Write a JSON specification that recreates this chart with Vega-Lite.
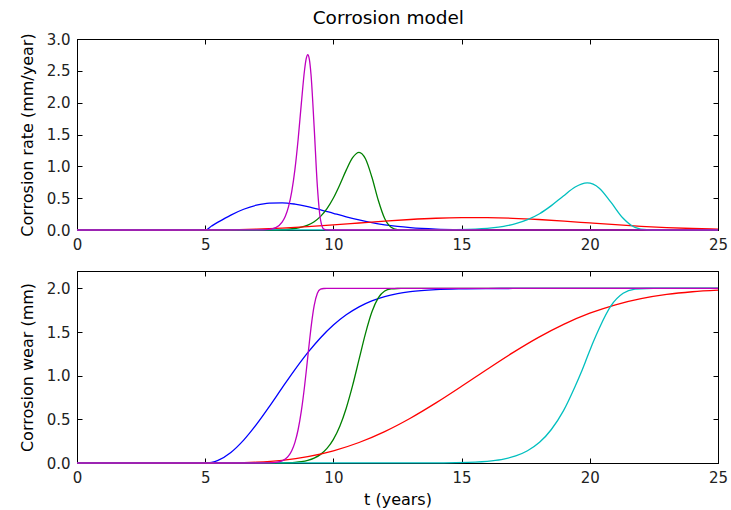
{
  "$schema": "https://vega.github.io/schema/vega-lite/v6.json",
  "padding": {"left": 18, "top": 9, "right": 3, "bottom": 5},
  "title": {"text": "Corrosion model", "fontSize": 18.5, "font": "DejaVu Sans", "fontWeight": "normal", "color": "#000", "anchor": "middle", "offset": 4, "dx": 15},
  "spacing": 17,
  "data": {"values": [
    {"s":"b","t":0,"r":0,"w":0},{"s":"b","t":5,"r":0,"w":0},{"s":"b","t":5.25,"r":0.0623,"w":0.0078},{"s":"b","t":5.5,"r":0.1231,"w":0.031},{"s":"b","t":6,"r":0.2349,"w":0.1212},{"s":"b","t":6.5,"r":0.3258,"w":0.2624},{"s":"b","t":7,"r":0.3894,"w":0.4424},{"s":"b","t":7.5,"r":0.4229,"w":0.6466},{"s":"b","t":8,"r":0.4273,"w":0.8604},{"s":"b","t":8.5,"r":0.4069,"w":1.0699},{"s":"b","t":9,"r":0.3679,"w":1.2642},{"s":"b","t":9.5,"r":0.3173,"w":1.4359},{"s":"b","t":10,"r":0.262,"w":1.5808},{"s":"b","t":10.5,"r":0.2076,"w":1.6981},{"s":"b","t":11,"r":0.1581,"w":1.7892},{"s":"b","t":11.5,"r":0.1159,"w":1.8574},{"s":"b","t":12,"r":0.0818,"w":1.9065},{"s":"b","t":12.5,"r":0.0557,"w":1.9405},{"s":"b","t":13,"r":0.0366,"w":1.9634},{"s":"b","t":14,"r":0.0142,"w":1.9873},{"s":"b","t":15,"r":0.0048,"w":1.9961},{"s":"b","t":16,"r":0.0014,"w":1.999},{"s":"b","t":17,"r":0.0004,"w":1.9998},{"s":"b","t":19,"r":0,"w":2},{"s":"b","t":25,"r":0,"w":2},
    {"s":"g","t":0,"r":0,"w":0},{"s":"g","t":7,"r":0.0002,"w":0},{"s":"g","t":7.5,"r":0.0011,"w":0.0003},{"s":"g","t":8,"r":0.0059,"w":0.0018},{"s":"g","t":8.25,"r":0.012,"w":0.0039},{"s":"g","t":8.5,"r":0.0234,"w":0.0082},{"s":"g","t":8.75,"r":0.0433,"w":0.0163},{"s":"g","t":9,"r":0.0768,"w":0.031},{"s":"g","t":9.25,"r":0.1308,"w":0.0564},{"s":"g","t":9.5,"r":0.214,"w":0.0988},{"s":"g","t":9.75,"r":0.3357,"w":0.1667},{"s":"g","t":10,"r":0.5025,"w":0.2705},{"s":"g","t":10.25,"r":0.7116,"w":0.4214},{"s":"g","t":10.5,"r":0.9402,"w":0.6279},{"s":"g","t":10.75,"r":1.1359,"w":0.8888},{"s":"g","t":11,"r":1.2197,"w":1.1865},{"s":"g","t":11.25,"r":1.1191,"w":1.4831},{"s":"g","t":11.5,"r":0.8318,"w":1.73},{"s":"g","t":11.75,"r":0.4664,"w":1.8922},{"s":"g","t":12,"r":0.1797,"w":1.9701},{"s":"g","t":12.25,"r":0.0422,"w":1.9949},{"s":"g","t":12.5,"r":0.0051,"w":1.9995},{"s":"g","t":12.75,"r":0.0003,"w":2},{"s":"g","t":13,"r":0,"w":2},{"s":"g","t":25,"r":0,"w":2},
    {"s":"r","t":0,"r":0,"w":0},{"s":"r","t":5,"r":0,"w":0},{"s":"r","t":6,"r":0.0035,"w":0.0012},{"s":"r","t":7,"r":0.0138,"w":0.0092},{"s":"r","t":8,"r":0.0308,"w":0.031},{"s":"r","t":9,"r":0.0535,"w":0.0727},{"s":"r","t":10,"r":0.0808,"w":0.1396},{"s":"r","t":11,"r":0.1103,"w":0.235},{"s":"r","t":12,"r":0.1395,"w":0.3599},{"s":"r","t":13,"r":0.1652,"w":0.5128},{"s":"r","t":14,"r":0.1845,"w":0.6884},{"s":"r","t":15,"r":0.1947,"w":0.8787},{"s":"r","t":15.5,"r":0.1959,"w":0.9765},{"s":"r","t":16,"r":0.1945,"w":1.0742},{"s":"r","t":17,"r":0.1839,"w":1.2642},{"s":"r","t":18,"r":0.1646,"w":1.4391},{"s":"r","t":19,"r":0.1391,"w":1.5913},{"s":"r","t":20,"r":0.1108,"w":1.7163},{"s":"r","t":21,"r":0.0831,"w":1.8131},{"s":"r","t":22,"r":0.0585,"w":1.8835},{"s":"r","t":23,"r":0.0385,"w":1.9316},{"s":"r","t":24,"r":0.0237,"w":1.9622},{"s":"r","t":25,"r":0.0136,"w":1.9805},
    {"s":"c","t":0,"r":0,"w":0},{"s":"c","t":14.31,"r":0.0026,"w":0.0016},{"s":"c","t":15.24,"r":0.0099,"w":0.0068},{"s":"c","t":16.17,"r":0.0331,"w":0.0248},{"s":"c","t":16.64,"r":0.0579,"w":0.0455},{"s":"c","t":17.11,"r":0.0985,"w":0.0812},{"s":"c","t":17.57,"r":0.1619,"w":0.1408},{"s":"c","t":18.04,"r":0.2554,"w":0.2366},{"s":"c","t":18.5,"r":0.3827,"w":0.3839},{"s":"c","t":18.97,"r":0.5341,"w":0.597},{"s":"c","t":19.43,"r":0.6748,"w":0.8799},{"s":"c","t":19.67,"r":0.7214,"w":1.0427},{"s":"c","t":19.9,"r":0.739,"w":1.2134},{"s":"c","t":20.13,"r":0.7191,"w":1.384},{"s":"c","t":20.37,"r":0.6576,"w":1.5451},{"s":"c","t":20.83,"r":0.4329,"w":1.8028},{"s":"c","t":21.3,"r":0.1838,"w":1.9442},{"s":"c","t":21.76,"r":0.0415,"w":1.9915},{"s":"c","t":22.23,"r":0.0038,"w":1.9995},{"s":"c","t":22.69,"r":0.0001,"w":2},{"s":"c","t":25,"r":0,"w":2},
    {"s":"m","t":0,"r":0,"w":0},{"s":"m","t":7,"r":0.0005,"w":0},{"s":"m","t":7.5,"r":0.0097,"w":0.0016},{"s":"m","t":7.75,"r":0.0368,"w":0.0068},{"s":"m","t":8,"r":0.1232,"w":0.0248},{"s":"m","t":8.125,"r":0.2158,"w":0.0455},{"s":"m","t":8.25,"r":0.367,"w":0.0812},{"s":"m","t":8.375,"r":0.603,"w":0.1408},{"s":"m","t":8.5,"r":0.9515,"w":0.2366},{"s":"m","t":8.625,"r":1.4253,"w":0.3839},{"s":"m","t":8.75,"r":1.9894,"w":0.597},{"s":"m","t":8.875,"r":2.5136,"w":0.8799},{"s":"m","t":8.9375,"r":2.6872,"w":1.0427},{"s":"m","t":9,"r":2.7528,"w":1.2134},{"s":"m","t":9.0625,"r":2.6785,"w":1.384},{"s":"m","t":9.125,"r":2.4495,"w":1.5451},{"s":"m","t":9.25,"r":1.6124,"w":1.8028},{"s":"m","t":9.375,"r":0.6845,"w":1.9442},{"s":"m","t":9.5,"r":0.1546,"w":1.9915},{"s":"m","t":9.625,"r":0.0142,"w":1.9995},{"s":"m","t":9.75,"r":0.0004,"w":2},{"s":"m","t":10,"r":0,"w":2},{"s":"m","t":25,"r":0,"w":2}
  ]},
  "vconcat": [
    {
      "width": 641, "height": 191,
      "layer": [
        {
          "mark": {"type": "line", "opacity": 0},
          "encoding": {
            "x": {"field": "t", "type": "quantitative", "scale": {"domain": [0, 25], "nice": false}, "axis": {"orient": "top", "labels": false, "title": null, "values": [0,5,10,15,20,25]}},
            "y": {"field": "r", "type": "quantitative", "scale": {"domain": [0, 3], "nice": false}, "axis": {"orient": "right", "labels": false, "title": null, "values": [0,0.5,1,1.5,2,2.5,3]}},
            "detail": {"field": "s"}
          }
        },
        {
          "mark": {"type": "line", "strokeWidth": 1.3, "interpolate": "monotone"},
          "encoding": {
            "x": {"field": "t", "type": "quantitative", "scale": {"domain": [0, 25], "nice": false}, "axis": {"orient": "bottom", "title": null, "values": [0,5,10,15,20,25]}},
            "y": {"field": "r", "type": "quantitative", "scale": {"domain": [0, 3], "nice": false}, "axis": {"orient": "left", "title": "Corrosion rate (mm/year)", "values": [0,0.5,1,1.5,2,2.5,3], "format": ".1f", "titlePadding": 11}},
            "color": {"field": "s", "type": "nominal", "scale": {"domain": ["b","g","r","c","m"], "range": ["#0000ff","#008000","#ff0000","#00bfbf","#bf00bf"]}, "legend": null}
          }
        }
      ],
      "resolve": {"axis": {"x": "independent", "y": "independent"}}
    },
    {
      "width": 641, "height": 192,
      "layer": [
        {
          "mark": {"type": "line", "opacity": 0},
          "encoding": {
            "x": {"field": "t", "type": "quantitative", "scale": {"domain": [0, 25], "nice": false}, "axis": {"orient": "top", "labels": false, "title": null, "values": [0,5,10,15,20,25]}},
            "y": {"field": "w", "type": "quantitative", "scale": {"domain": [0, 2.2], "nice": false}, "axis": {"orient": "right", "labels": false, "title": null, "values": [0,0.5,1,1.5,2]}},
            "detail": {"field": "s"}
          }
        },
        {
          "mark": {"type": "line", "strokeWidth": 1.3, "interpolate": "monotone"},
          "encoding": {
            "x": {"field": "t", "type": "quantitative", "scale": {"domain": [0, 25], "nice": false}, "axis": {"orient": "bottom", "title": "t (years)", "values": [0,5,10,15,20,25]}},
            "y": {"field": "w", "type": "quantitative", "scale": {"domain": [0, 2.2], "nice": false}, "axis": {"orient": "left", "title": "Corrosion wear (mm)", "values": [0,0.5,1,1.5,2], "format": ".1f", "titlePadding": 11}},
            "color": {"field": "s", "type": "nominal", "scale": {"domain": ["b","g","r","c","m"], "range": ["#0000ff","#008000","#ff0000","#00bfbf","#bf00bf"]}, "legend": null}
          }
        }
      ],
      "resolve": {"axis": {"x": "independent", "y": "independent"}}
    }
  ],
  "config": {
    "font": "DejaVu Sans",
    "view": {"stroke": "#000", "strokeWidth": 1},
    "axis": {
      "grid": false,
      "domainColor": "#000",
      "domainWidth": 1,
      "tickColor": "#000",
      "tickSize": -5,
      "tickWidth": 1,
      "labelFontSize": 15,
      "labelColor": "#222",
      "labelPadding": 12,
      "labelFlush": false,
      "titleFontSize": 16,
      "titleFontWeight": "normal",
      "titleColor": "#000",
      "titlePadding": 6
    }
  }
}
